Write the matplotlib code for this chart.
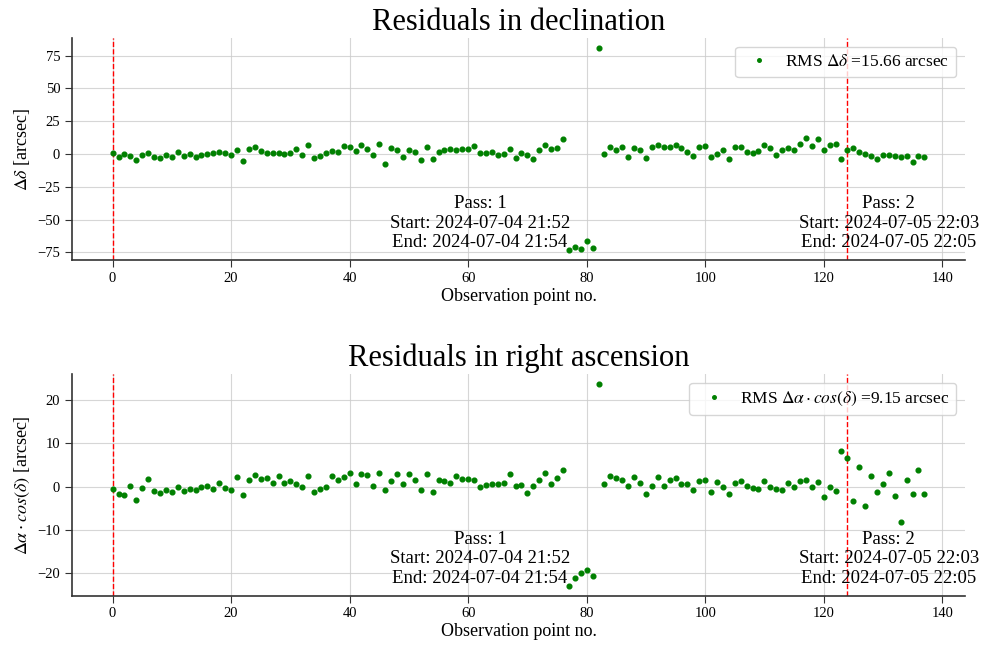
import matplotlib
matplotlib.use("Agg")
import matplotlib.pyplot as plt
import matplotlib.transforms as mtransforms
import numpy as np

plt.rcParams['font.family'] = ['Liberation Serif', 'DejaVu Serif']
plt.rcParams['mathtext.fontset'] = 'stix'

# residuals (arcsec), observation points 0..137
dec_res = [
    0.8, -2.3, -0.3, -1.5, -4.6, -0.8, 0.5, -2.3, -2.8, -1.0,
    -2.3, 1.8, -1.8, 0.0, -2.3, -1.0, 0.3, 0.5, 1.3, 0.8,
    -0.5, 2.8, -5.4, 4.1, 5.4, 2.3, 0.5, 1.0, 1.0, -0.3,
    0.5, 3.6, -1.0, 6.6, -3.1, -1.5, 0.8, 2.3, 1.5, 6.1,
    5.4, 2.3, 7.1, 3.8, -1.0, 7.6, -7.4, 4.3, 2.8, -2.3,
    3.3, 1.5, -4.3, 5.4, -3.8, 1.5, 3.3, 3.6, 2.8, 3.6,
    3.8, 5.9, 0.8, 0.8, 1.3, -0.8, 0.0, 3.8, -3.1, 1.0,
    -0.5, -3.6, 3.3, 7.1, 3.8, 4.6, 11.7, -73.2, -71.1, -72.7,
    -66.6, -71.9, 80.6, 0.0, 5.1, 3.3, 5.4, -2.0, 4.6, 2.8,
    -3.1, 5.0, 6.6, 5.1, 5.6, 6.6, 4.3, 1.5, -1.3, 5.1,
    6.1, -2.0, -0.3, 2.8, -3.8, 5.4, 5.6, 1.8, 0.5, 2.6,
    6.6, 4.3, -0.8, 2.8, 4.6, 3.3, 7.4, 12.5, 6.1, 11.5,
    2.8, 6.6, 7.9, -4.1, 2.8, 4.6, 1.5, -0.3, -1.5, -3.6,
    -0.8, -0.8, -1.5, -2.3, -1.8, -5.9, -1.8, -2.0,
]

ra_res = [
    -0.5, -1.6, -1.9, 0.1, -3.0, -0.3, 1.8, -1.0, -1.4, -0.8,
    -1.2, -0.2, -1.0, -0.5, -0.7, -0.1, 0.1, -0.5, 0.8, -0.3,
    -0.7, 2.2, -2.0, 1.6, 2.7, 1.8, 2.0, 0.8, 2.5, 0.8,
    1.2, 0.5, 0.0, 2.5, -1.3, -0.5, -0.1, 2.4, 1.6, 2.2,
    3.2, 0.5, 2.9, 2.7, 0.2, 3.1, -0.9, 1.2, 2.9, 0.6,
    2.9, 1.4, -0.7, 2.8, -1.3, 1.5, 1.2, 0.8, 2.5, 1.8,
    1.7, 1.4, 0.0, 0.4, 0.6, 0.5, 0.8, 2.8, 0.1, 0.4,
    -1.5, 0.2, 1.4, 3.2, 0.5, 1.9, 3.8, -22.8, -21.1, -19.8,
    -19.3, -20.5, 23.6, 0.6, 2.5, 2.0, 1.6, 0.2, 2.2, 0.8,
    -1.8, 0.2, 2.3, 0.2, 1.5, 2.0, 0.7, 0.5, -0.9, 1.2,
    1.6, -1.3, 1.0, 0.0, -1.7, 0.8, 1.2, 0.2, -0.3, -0.5,
    1.2, -0.2, -0.5, -0.7, 0.8, -0.2, 1.3, 1.6, -0.2, 1.0,
    -2.5, -0.2, -1.1, 8.3, 6.5, -3.3, 4.5, -4.4, 2.4, -1.2,
    0.5, 3.2, -2.2, -8.2, 1.5, -1.7, 3.8, -1.8,
]

# passes: first index and one-past-last index
pass_starts = [0, 124]
pass_ends = [124, 138]
pass_names = ["1", "2"]
pass_start_times = ["2024-07-04 21:52", "2024-07-05 22:03"]
pass_end_times = ["2024-07-04 21:54", "2024-07-05 22:05"]

rms_dec = 15.66
rms_ra = 9.15

points = np.arange(len(dec_res))

fig, (ax1, ax2) = plt.subplots(2, 1, figsize=(9.81, 6.47), dpi=100)
fig.subplots_adjust(left=0.0734, right=0.9837, top=0.9408, bottom=0.0793, hspace=0.514)


def draw_panel(ax, res, title, ylabel, leg_label):
    ax.plot(points, res, 'o', color='green', markersize=3.4, ls='', label=leg_label, zorder=3)
    for s in pass_starts:
        ax.axvline(s, color='red', ls='--', lw=1, zorder=2)
    trans = mtransforms.blended_transform_factory(ax.transData, ax.transAxes)
    for s, e, n, st, en in zip(pass_starts, pass_ends, pass_names, pass_start_times, pass_end_times):
        ax.text((s + e) / 2, 0.04, f"Pass: {n}\nStart: {st}\nEnd: {en}", transform=trans,
                ha='center', va='bottom', multialignment='center', fontsize=13.5, zorder=4)
    ax.set_title(title, fontsize=22)
    ax.set_xlabel("Observation point no.", fontsize=13, labelpad=2)
    ax.set_ylabel(ylabel, fontsize=13)
    ax.grid(True, color='#cccccc', lw=0.8, alpha=0.8)
    ax.set_axisbelow(True)
    for side in ['top', 'right']:
        ax.spines[side].set_visible(False)
    for side in ['left', 'bottom']:
        ax.spines[side].set_color('#333333')
        ax.spines[side].set_linewidth(1.2)
    ax.tick_params(labelsize=10.5, length=5, color='#333333')
    ax.legend(loc='upper right', fontsize=12.5, markerscale=0.75, handletextpad=0.5)


draw_panel(ax1, dec_res, "Residuals in declination", r"$\Delta\delta$ [arcsec]",
           rf"RMS $\Delta\delta$ ={rms_dec:.2f} arcsec")
draw_panel(ax2, ra_res, "Residuals in right ascension", r"$\Delta\alpha \cdot cos(\delta)$ [arcsec]",
           rf"RMS $\Delta\alpha \cdot cos(\delta)$ ={rms_ra:.2f} arcsec")

fig.savefig("out.png", dpi=100)
